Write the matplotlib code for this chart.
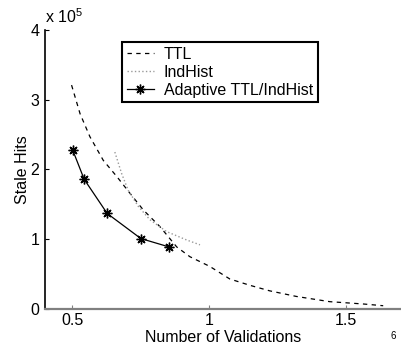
import matplotlib
matplotlib.use('Agg')
import matplotlib.pyplot as plt
from matplotlib.ticker import FuncFormatter

plt.rcParams['font.family'] = ['Liberation Sans', 'DejaVu Sans']
plt.rcParams['mathtext.fontset'] = 'custom'
plt.rcParams['mathtext.rm'] = 'Liberation Sans'

# Data (stale hits in absolute counts)
ttl_x = [0.497, 0.528, 0.564, 0.613, 0.662, 0.710, 0.759, 0.820, 0.881, 0.929,
         1.002, 1.075, 1.148, 1.221, 1.318, 1.440, 1.562, 1.635]
ttl_y = [3.21e5, 2.80e5, 2.47e5, 2.13e5, 1.90e5, 1.66e5, 1.42e5, 1.18e5, 0.89e5,
         0.75e5, 0.61e5, 0.43e5, 0.34e5, 0.26e5, 0.18e5, 0.105e5, 0.072e5, 0.047e5]

ind_x = [0.655, 0.680, 0.704, 0.741, 0.783, 0.844, 0.917, 0.966]
ind_y = [2.25e5, 1.94e5, 1.70e5, 1.47e5, 1.28e5, 1.11e5, 0.99e5, 0.92e5]

ada_x = [0.501, 0.543, 0.627, 0.750, 0.853]
ada_y = [2.28e5, 1.86e5, 1.37e5, 1.01e5, 0.89e5]

labels = ['TTL', 'IndHist', 'Adaptive TTL/IndHist']

fig = plt.figure(figsize=(4.01, 3.46), dpi=100)
ax = fig.add_axes([45/401, 1 - 309/346, 356/401, 279/346])

ax.plot(ttl_x, ttl_y, color='black', lw=0.9, dashes=(3.5, 3.5), label=labels[0])
ax.plot(ind_x, ind_y, color='0.6', lw=1.0, ls=':', label=labels[1])
ax.plot(ada_x, ada_y, color='black', lw=0.9, marker=(8, 2, 0), ms=7,
        mew=1.0, label=labels[2])

ax.set_xlim(0.4, 1.7)
ax.set_ylim(0, 4e5)
ax.set_xticks([0.5, 1, 1.5])
ax.set_xticklabels(['0.5', '1', '1.5'])
ax.set_yticks([0, 1e5, 2e5, 3e5, 4e5])
ax.yaxis.set_major_formatter(FuncFormatter(lambda v, p: '%g' % (v / 1e5)))

ax.tick_params(direction='in', length=3, labelsize=11.5, width=0.8)
ax.tick_params(axis='x', pad=3, color='0.5')
ax.tick_params(axis='y', pad=4)

for s in ['top', 'right']:
    ax.spines[s].set_visible(False)
ax.spines['left'].set_linewidth(1.2)
ax.spines['bottom'].set_color('0.5')
ax.spines['bottom'].set_linewidth(1.6)

ax.set_xlabel('Number of Validations', fontsize=11.5, labelpad=1)
ax.set_ylabel('Stale Hits', fontsize=11.5, labelpad=0)

ax.text(0.0, 1.015, r'x 10$^5$', transform=ax.transAxes, fontsize=11.5,
        ha='left', va='bottom')
fig.text(393/401, 1 - 336/346, '6', fontsize=7, ha='center', va='center')

leg = ax.legend(loc='upper left', bbox_to_anchor=(122/401, 1 - 42/346),
                bbox_transform=fig.transFigure, fontsize=11.5, frameon=True,
                fancybox=False, framealpha=1, edgecolor='black',
                handlelength=1.7, handletextpad=0.6, labelspacing=0.18,
                borderpad=0.3, borderaxespad=0)
leg.get_frame().set_linewidth(1.5)

fig.savefig('out.png', dpi=100)
